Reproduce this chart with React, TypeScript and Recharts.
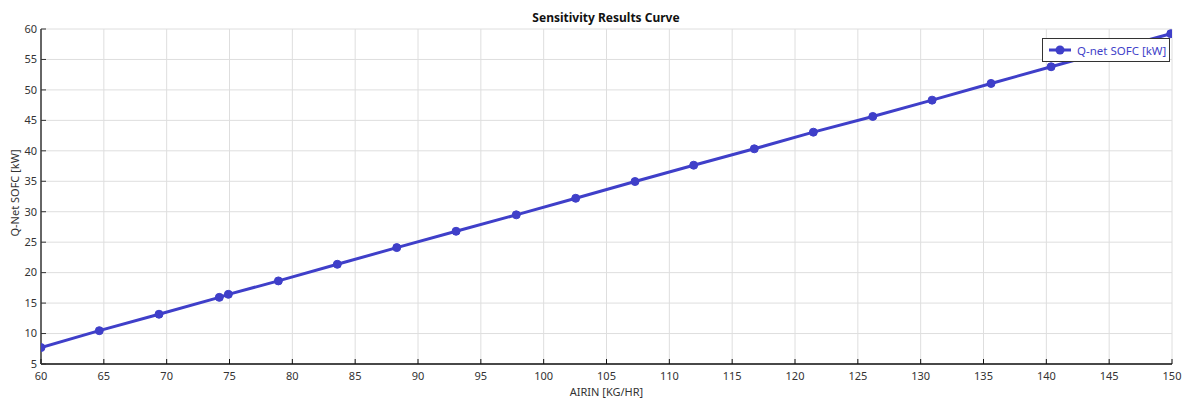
import React from 'react';
import { LineChart, Line, XAxis, YAxis, CartesianGrid, Legend } from 'recharts';

const airIn = [60, 64.64, 69.39, 74.19, 74.91, 78.89, 83.58, 88.31, 93.03, 97.82, 102.55, 107.27, 111.94, 116.76, 121.46, 126.19, 130.91, 135.6, 140.38, 145.1, 149.9];
const qNet = [7.7, 10.47, 13.17, 15.94, 16.44, 18.64, 21.37, 24.11, 26.79, 29.49, 32.21, 34.96, 37.64, 40.33, 43.06, 45.64, 48.32, 51.06, 53.8, 56.5, 59.23];
const xTicks = [60, 65, 70, 75, 80, 85, 90, 95, 100, 105, 110, 115, 120, 125, 130, 135, 140, 145, 150];
const yTicks = [5, 10, 15, 20, 25, 30, 35, 40, 45, 50, 55, 60];

const title = 'Sensitivity Results Curve';
const xLabel = 'AIRIN [KG/HR]';
const yLabel = 'Q-Net SOFC [kW]';
const seriesName = 'Q-net SOFC [kW]';

const data = airIn.map((x, i) => ({ x, y: qNet[i] }));

const FONT = '"Noto Sans", "Open Sans", sans-serif';
const BLUE = '#3f3fc9';

const YTick = (props: any) => {
  const { x, y, payload } = props;
  return (
    <g>
      <line x1={x + 4} x2={x + 9} y1={y} y2={y} stroke="#333" strokeWidth={1} />
      <text x={x} y={y} dy="0.35em" textAnchor="end" fill="#333" fontSize={11} fontFamily={FONT}>
        {payload.value}
      </text>
    </g>
  );
};

const XTick = (props: any) => {
  const { x, y, payload } = props;
  return (
    <g>
      <line x1={x} x2={x} y1={y - 8} y2={y - 13} stroke="#111" strokeWidth={1} />
      <text x={x} y={y} dy="0.71em" textAnchor="middle" fill="#333" fontSize={11} fontFamily={FONT}>
        {payload.value}
      </text>
    </g>
  );
};

const LegendBox = () => (
  <div
    style={{
      width: 126,
      height: 22,
      background: '#fff',
      border: '1px solid #333',
      display: 'flex',
      alignItems: 'center',
      fontFamily: FONT,
      fontSize: 11.5,
      color: BLUE,
      boxSizing: 'content-box',
    }}
  >
    <svg width={28} height={22} style={{ marginLeft: 4 }}>
      <line x1={2} x2={24} y1={11} y2={11} stroke={BLUE} strokeWidth={3} />
      <circle cx={13} cy={11} r={4.5} fill={BLUE} />
    </svg>
    <span style={{ marginLeft: 2, whiteSpace: 'nowrap' }}>{seriesName}</span>
  </div>
);

export default function App() {
  return (
    <div style={{ position: 'absolute', left: 0, top: 0, width: 1185, height: 400, background: '#fff' }}>
      <div
        style={{
          position: 'absolute',
          left: 0,
          top: 10,
          width: 1212,
          textAlign: 'center',
          fontFamily: FONT,
          fontWeight: 700,
          fontSize: 12,
          color: '#111',
          lineHeight: '16px',
        }}
      >
        {title}
      </div>
      <LineChart width={1185} height={400} data={data} margin={{ top: 29, right: 13, bottom: 0, left: 0 }}>
        <CartesianGrid stroke="#dedede" strokeWidth={1} />
        <XAxis
          dataKey="x"
          type="number"
          domain={[60, 150]}
          ticks={xTicks}
          allowDataOverflow
          height={36}
          tickSize={0}
          tickMargin={8}
          tickLine={false}
          tick={<XTick />}
          interval={0}
          axisLine={{ stroke: '#111', strokeWidth: 1.5 }}
          label={{ value: xLabel, position: 'insideBottom', offset: 4, fill: '#333', fontSize: 11, fontFamily: FONT }}
        />
        <YAxis
          type="number"
          domain={[5, 60]}
          ticks={yTicks}
          allowDataOverflow
          width={41}
          tickSize={0}
          tickMargin={4}
          tickLine={false}
          tick={<YTick />}
          interval={0}
          axisLine={{ stroke: '#666', strokeWidth: 2 }}
          label={{
            value: yLabel,
            content: () => (
              <text
                transform="translate(15,193) rotate(-90)"
                textAnchor="middle"
                dy="0.35em"
                fill="#333"
                fontSize={11}
                fontFamily={FONT}
              >
                {yLabel}
              </text>
            ),
          }}
        />
        <Legend
          layout="vertical"
          align="center"
          verticalAlign="middle"
          wrapperStyle={{ position: 'absolute', left: 1042, top: 38, width: 128 }}
          content={<LegendBox />}
        />
        <Line
          type="linear"
          dataKey="y"
          name={seriesName}
          stroke={BLUE}
          strokeWidth={3}
          dot={{ r: 4, fill: BLUE, stroke: BLUE, strokeWidth: 1 }}
          activeDot={false}
          isAnimationActive={false}
        />
      </LineChart>
    </div>
  );
}
